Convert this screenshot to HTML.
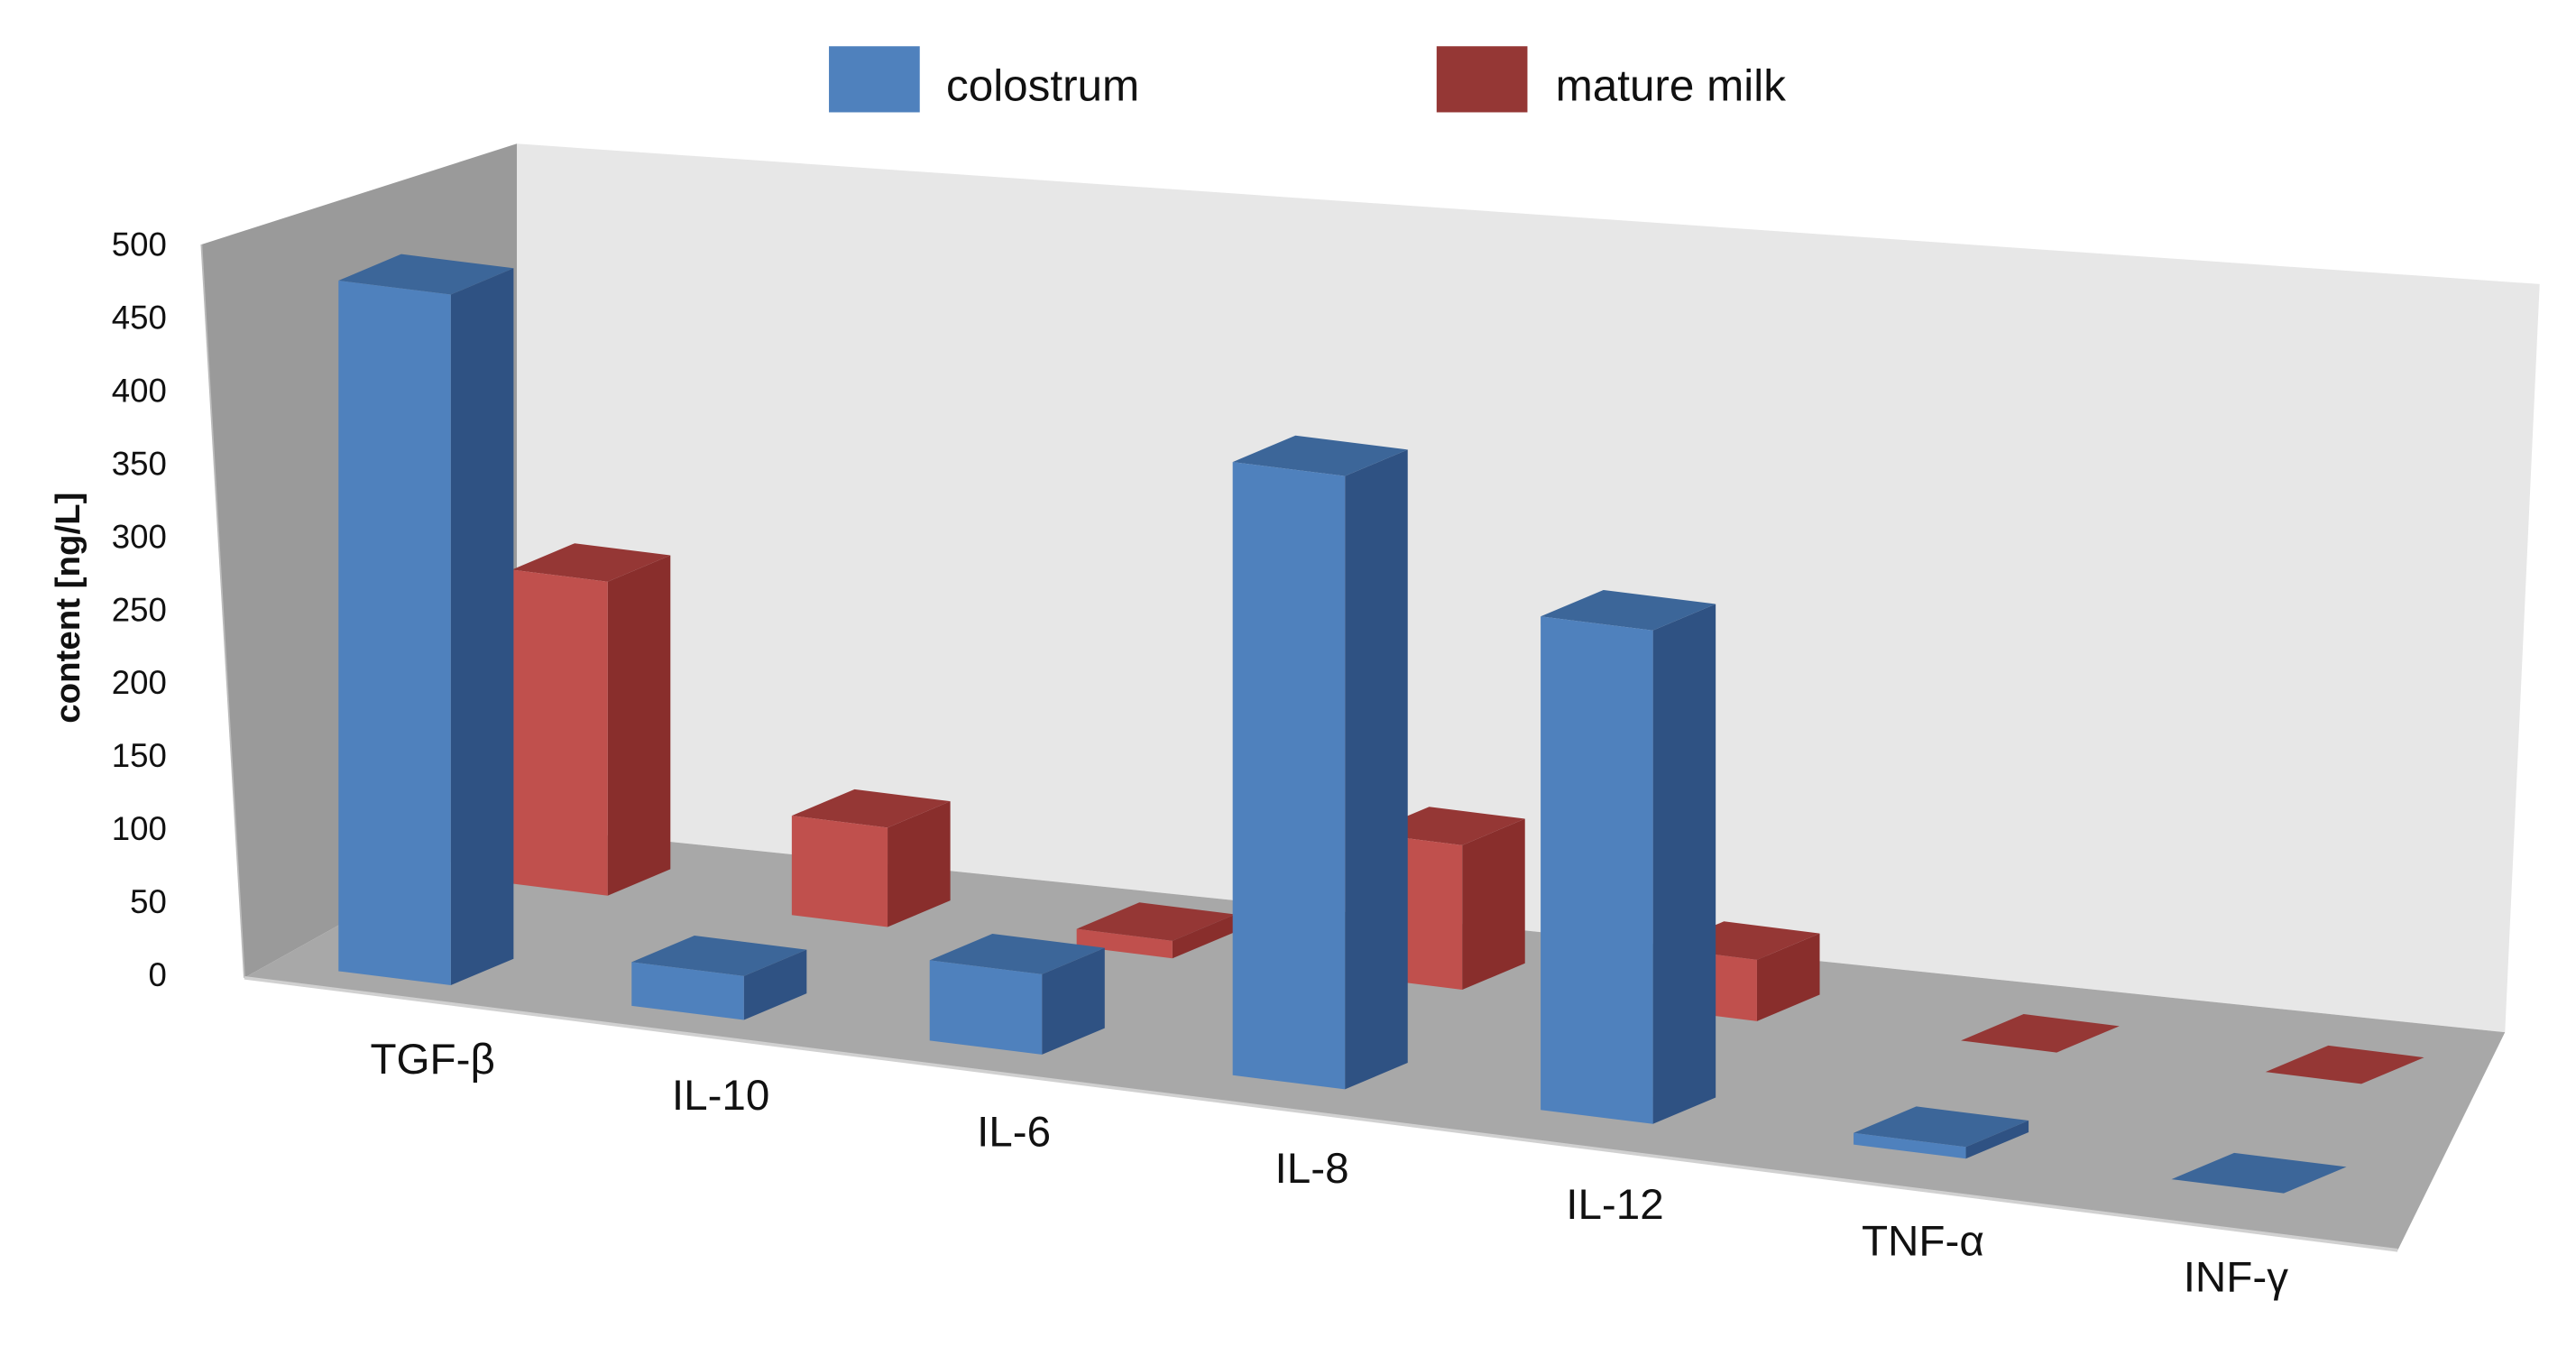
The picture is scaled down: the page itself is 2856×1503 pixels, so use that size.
<!DOCTYPE html>
<html><head><meta charset="utf-8"><style>
html,body{margin:0;padding:0;background:#fff;}
svg{display:block;font-family:"Liberation Sans",sans-serif;}
</style></head><body>
<svg id="chart" width="2856" height="1503" viewBox="0 0 1560 821" preserveAspectRatio="none" xmlns="http://www.w3.org/2000/svg">
<polygon points="313,87 1538,172 1517,625 313,500" fill="#e7e7e7"/>
<polygon points="122,148 313,87 313,500 148,592" fill="#9a9a9a"/>
<polygon points="148,592 313,500 1517,625 1452,757" fill="#a8a8a8"/>
<line x1="122" y1="148" x2="148" y2="592" stroke="#bbb" stroke-width="1"/>
<line x1="148" y1="592" x2="1452" y2="757" stroke="#d0d0d0" stroke-width="2"/>
<g id="ticks"></g>
<g id="bars"></g>
<g id="cats"></g>
<text transform="translate(48,368) rotate(-90)" text-anchor="middle" font-size="21" font-weight="bold" fill="#111">content [ng/L]</text>
<rect x="502" y="28" width="55" height="40" fill="#4f81bd"/>
<text x="573" y="61" font-size="27" fill="#111">colostrum</text>
<rect x="870" y="28" width="55" height="40" fill="#953735"/>
<text x="942" y="61" font-size="27" fill="#111">mature milk</text>
</svg>
<script>
const categories = ["TGF-β","IL-10","IL-6","IL-8","IL-12","TNF-α","INF-γ"];
const colostrum = [473, 30, 55, 420, 338, 8, 0];
const matureMilk = [215, 68, 12, 99, 42, 0, 0];
const yTicks = [0,50,100,150,200,250,300,350,400,450,500];

const NS="http://www.w3.org/2000/svg";
const K=0.884, SLOPE=0.125, DX=38, DY=-16;
function yTickPos(v){return 590 - v*K;}
function colX(i){return 205 + 176*i + 1.5*i*i;}
function colY(i){return 588 + 21*i;}
function matX(i){return colX(i) + 105 - 8*i;}
function matY(i){return colY(i) - 53 - 2*i;}
function h(v){return v*K;}

const ticks=document.getElementById('ticks');
yTicks.forEach(v=>{
  const t=document.createElementNS(NS,'text');
  
  
  t.setAttribute('x',101); t.setAttribute('y',yTickPos(v)+7);
  t.setAttribute('text-anchor','end'); t.setAttribute('font-size','20'); t.setAttribute('fill','#111');
  t.textContent=v; ticks.appendChild(t);
});

const bars=document.getElementById('bars');
function poly(pts,fill,name){
  const p=document.createElementNS(NS,'polygon');
  
  
  p.setAttribute('points',pts.map(a=>a.join(',')).join(' '));
  p.setAttribute('fill',fill);
  bars.appendChild(p);
}
function bar(x,y,w,v,c,name){
  const H=h(v), s=w*SLOPE;
  const bl=[x,y], br=[x+w,y+s], tl=[x,y-H], tr=[x+w,y+s-H];
  const btr=[x+w+DX,y+s+DY-H], bbr=[x+w+DX,y+s+DY], btl=[x+DX,y+DY-H];
  poly([br,tr,btr,bbr],c[1],name+'-side');
  poly([tl,tr,btr,btl],c[2],name+'-top');
  if(H>0.5) poly([bl,br,tr,tl],c[0],name+'-front');
}
const blue=["#4f81bd","#2f5283","#3c6699"], red=["#c0504d","#892e2c","#953735"];
categories.forEach((c,i)=>{ bar(matX(i),matY(i),58,matureMilk[i],red,'bar-mature-'+i); });
categories.forEach((c,i)=>{ bar(colX(i),colY(i),68,colostrum[i],blue,'bar-colostrum-'+i); });

const cats=document.getElementById('cats');
categories.forEach((c,i)=>{
  const t=document.createElementNS(NS,'text');
  
  
  t.setAttribute('x',colX(i)+57-3*i); t.setAttribute('y',colY(i)+62+1*i);
  t.setAttribute('text-anchor','middle'); t.setAttribute('font-size','26'); t.setAttribute('fill','#111');
  t.textContent=c; cats.appendChild(t);
});
</script>
</body></html>
